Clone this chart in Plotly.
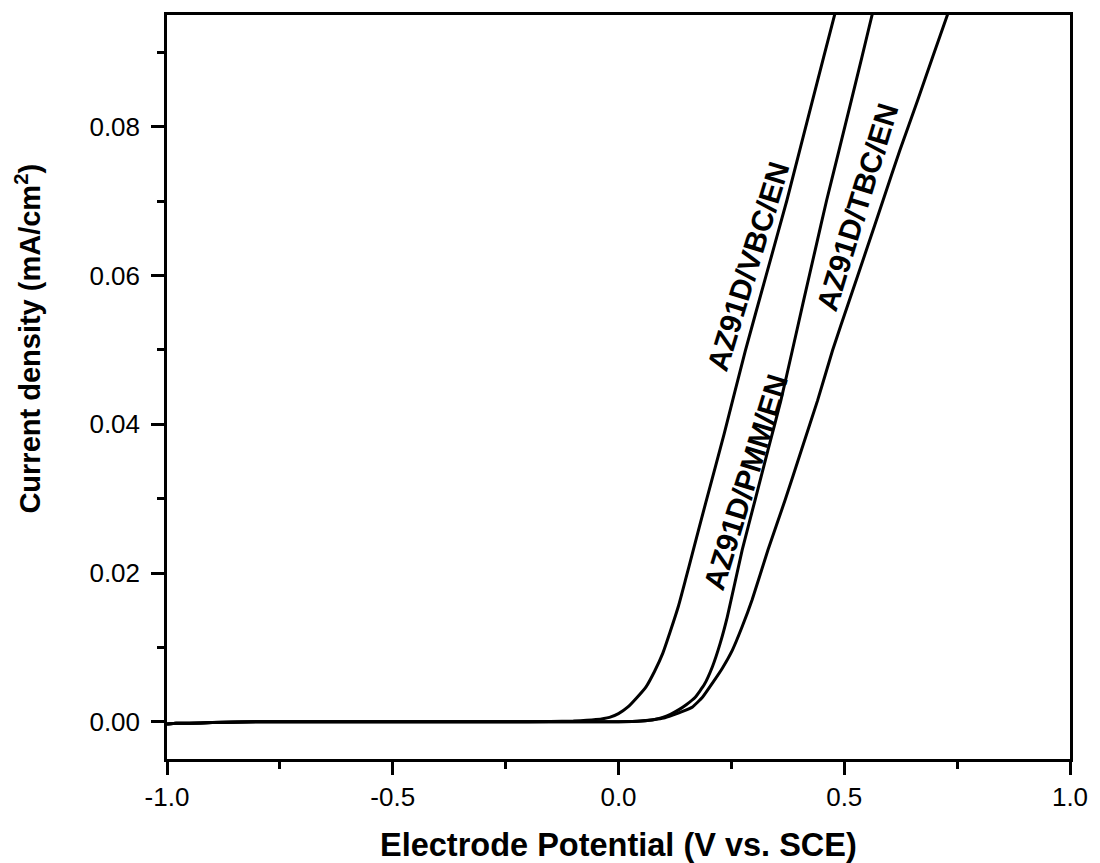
import plotly.graph_objects as go

# ---- data ----
vbc_v = [-1.0, -0.98, -0.95, -0.9, -0.8, -0.6, -0.4, -0.2, -0.1, -0.05, -0.02, 0.0, 0.021, 0.04,
         0.061, 0.08, 0.098, 0.115, 0.133, 0.148, 0.164, 0.193, 0.234, 0.281, 0.327, 0.373, 0.430,
         0.479, 0.49]
vbc_i = [-0.0003, -0.0002, -0.0002, -0.0001, 0.0, 0.0, 0.0, 0.0, 0.0001, 0.0003, 0.0006, 0.0011,
         0.0020, 0.0032, 0.0047, 0.0068, 0.0092, 0.0122, 0.0156, 0.0190, 0.0227, 0.0294, 0.0387,
         0.0499, 0.0600, 0.0701, 0.0836, 0.0951, 0.0975]

pmm_v = [-1.0, -0.98, -0.95, -0.9, -0.8, -0.5, -0.2, 0.0, 0.05, 0.08, 0.098, 0.115, 0.133, 0.150,
         0.170, 0.190, 0.208, 0.225, 0.241, 0.274, 0.3025, 0.331, 0.3597, 0.385, 0.4103,
         0.4356, 0.461, 0.4884, 0.516, 0.539, 0.562, 0.572]
pmm_i = [-0.0003, -0.0002, -0.0002, -0.0001, 0.0, 0.0, 0.0, 0.0, 0.0001, 0.0003, 0.0006, 0.0010,
         0.0016, 0.0023, 0.0033, 0.0050, 0.0074, 0.0105, 0.0141, 0.0231, 0.0298, 0.0365,
         0.0432, 0.0499, 0.0567, 0.0634, 0.0701, 0.0768, 0.0836, 0.0893, 0.0951, 0.0975]

tbc_v = [-1.0, -0.98, -0.95, -0.9, -0.8, -0.5, -0.2, 0.0, 0.05, 0.08, 0.10, 0.120, 0.142, 0.164,
         0.186, 0.208, 0.230, 0.252, 0.274, 0.296, 0.331, 0.369, 0.405, 0.441, 0.474, 0.511,
         0.549, 0.586, 0.623, 0.663, 0.696, 0.729, 0.739]
tbc_i = [-0.0003, -0.0002, -0.0002, -0.0001, 0.0, 0.0, 0.0, 0.0, 0.0001, 0.0003, 0.0005, 0.0009,
         0.0014, 0.0020, 0.0033, 0.0052, 0.0072, 0.0096, 0.0128, 0.0164, 0.0231, 0.0298, 0.0365,
         0.0432, 0.0499, 0.0566, 0.0634, 0.0701, 0.0768, 0.0836, 0.0894, 0.0951, 0.0968]

x_tickvals = [-1.0, -0.5, 0.0, 0.5, 1.0]
x_ticktext = ["-1.0", "-0.5", "0.0", "0.5", "1.0"]
y_tickvals = [0.00, 0.02, 0.04, 0.06, 0.08]
y_ticktext = ["0.00", "0.02", "0.04", "0.06", "0.08"]

labels = ["AZ91D/VBC/EN", "AZ91D/PMM/EN", "AZ91D/TBC/EN"]

FONT = "Liberation Sans, Arial, sans-serif"

fig = go.Figure()
for v, i, name in [(vbc_v, vbc_i, labels[0]), (pmm_v, pmm_i, labels[1]), (tbc_v, tbc_i, labels[2])]:
    fig.add_trace(go.Scatter(x=v, y=i, mode="lines", name=name,
                             line=dict(color="black", width=3, shape="spline", smoothing=0.4),
                             showlegend=False))

# curve labels
for (xv, yv), txt in zip([(0.287, 0.0612), (0.281, 0.0322), (0.530, 0.0692)], labels):
    fig.add_annotation(x=xv, y=yv, xref="x", yref="y", text="<b>%s</b>" % txt,
                       textangle=-73, showarrow=False,
                       font=dict(family=FONT, size=30, color="black"))

# axis titles
fig.add_annotation(x=0.5, y=-0.1154, xref="paper", yref="paper", xanchor="center", yanchor="middle",
                   text="<b>Electrode Potential (V vs. SCE)</b>", showarrow=False,
                   font=dict(family=FONT, size=32.5, color="black"))
fig.add_annotation(x=-0.154, y=0.565, xref="paper", yref="paper", xanchor="center", yanchor="middle",
                   text="<b>Current density (mA/cm<sup>2</sup>)</b>", textangle=-90, showarrow=False,
                   font=dict(family=FONT, size=29, color="black"))

axis_common = dict(showline=True, linecolor="black", linewidth=2.5, mirror=True,
                   ticks="outside", ticklen=13, tickwidth=2.5, tickcolor="black",
                   showgrid=False, zeroline=False,
                   tickfont=dict(family=FONT, size=26, color="black"))

fig.update_xaxes(range=[-1.0, 1.0], tickvals=x_tickvals, ticktext=x_ticktext,
                 ticklabelstandoff=0,
                 minor=dict(ticks="outside", ticklen=7, tickwidth=2.5, tickcolor="black",
                            dtick=0.25, tick0=-1.0, showgrid=False),
                 **axis_common)
fig.update_yaxes(range=[-0.005, 0.095], tickvals=y_tickvals, ticktext=y_ticktext,
                 ticklabelstandoff=6,
                 minor=dict(ticks="outside", ticklen=7, tickwidth=2.5, tickcolor="black",
                            dtick=0.01, tick0=0.0, showgrid=False),
                 **axis_common)

fig.update_layout(width=1100, height=863,
                  margin=dict(l=167, r=23, t=14, b=104),
                  plot_bgcolor="white", paper_bgcolor="white",
                  font=dict(family=FONT, color="black"))

fig.write_html("out.html")
